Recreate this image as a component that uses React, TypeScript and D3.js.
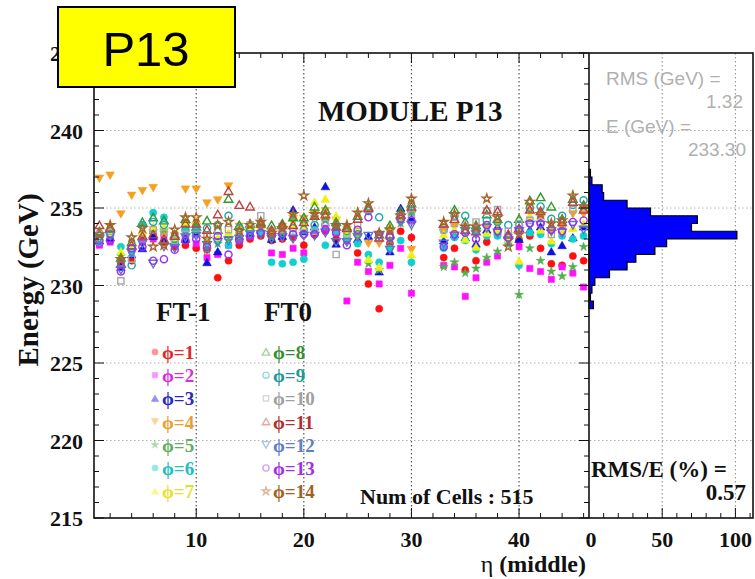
import React from "react";
import * as d3 from "d3";

// η (middle) index of each calorimeter column
const ETA = [1, 2, 3, 4, 5, 6, 7, 8, 9, 10, 11, 12, 13, 14, 15, 16, 17, 18, 19, 20, 21, 22, 23, 24, 25, 26, 27, 28, 29, 30, 31, 32, 33, 34, 35, 36, 37, 38, 39, 40, 41, 42, 43, 44, 45, 46];

// Cell energies (GeV) per φ row, one value per η column (null = no cell)
const PHI1 = [232.7, 233.0, 231.6, 231.6, 233.0, 233.4, 232.8, 232.5, 232.6, 232.4, 232.3, 230.5, 231.6, 232.6, 233.0, 233.2, 232.9, 233.0, 233.1, 232.6, 233.3, 233.5, 233.0, 232.9, 232.1, 230.1, 228.5, 232.7, 233.5, 233.1, null, null, 231.8, 232.4, 231.0, 231.6, 232.8, 233.3, 233.0, 232.9, 233.2, 232.4, 231.4, 231.3, 231.9, 231.6];
const PHI2 = [232.6, 232.8, 231.3, 232.3, 232.8, 233.0, 233.1, 232.7, 233.2, 232.7, 231.8, 232.0, 232.6, 232.9, 233.2, 233.5, 232.1, 232.0, 232.4, 232.1, 233.5, 233.7, 233.4, 229.0, 231.5, 230.9, 230.1, 231.3, 232.4, 229.5, null, null, 231.3, 231.2, 229.3, 230.5, 231.5, 231.9, 232.8, 232.5, 231.1, 230.9, 230.4, 231.2, 230.8, 229.9];
const PHI3 = [232.9, 233.1, 231.2, 232.0, 232.4, 233.2, 232.9, 232.9, 233.0, 233.4, 231.5, 232.2, 233.3, 233.2, 233.4, 233.6, 233.0, 233.2, 234.9, 233.5, 233.8, 236.4, 232.7, 233.2, 233.0, 233.2, 230.9, 232.2, 235.0, 234.3, null, null, 232.9, 233.3, 233.1, 232.7, 233.6, 233.8, 233.2, 233.0, 233.6, 233.8, 232.2, 232.6, 233.1, 233.8];
const PHI4 = [236.9, 237.1, 234.6, 235.8, 236.1, 236.3, 233.3, 233.2, 236.2, 236.2, 235.3, 235.5, 236.4, 233.8, 233.7, 233.9, 233.4, 233.8, 234.3, 234.3, 234.6, 234.8, 234.2, 233.6, 233.2, 232.7, 232.7, 233.5, 234.2, 232.3, null, null, 233.5, 233.8, 233.2, 233.4, 233.8, 233.9, 233.1, 233.4, 234.8, 234.5, 233.4, 233.8, 234.6, 234.6];
const PHI5 = [233.0, 233.3, 231.9, 232.4, 233.3, 233.5, 233.6, 233.0, 233.9, 233.9, 232.3, 232.7, 232.9, 233.1, 233.6, 233.7, 233.1, 233.4, 234.2, 234.0, 234.4, 234.2, 233.8, 233.5, 233.4, 231.4, 231.0, 232.9, 234.0, 234.7, null, null, 231.2, 231.5, 230.8, 231.1, 231.8, 232.2, 232.9, 229.4, 232.4, 231.6, 230.9, 230.6, 231.2, 232.5];
const PHI6 = [232.8, 233.2, 232.5, 232.2, 233.9, 234.7, 234.4, 232.8, 233.5, 233.6, 232.8, 232.9, 232.6, 233.3, 233.5, 233.4, 231.5, 231.4, 231.5, 231.7, 233.6, 232.6, 233.5, 233.0, 232.7, 232.0, 231.5, 232.4, 232.9, 231.5, null, null, 232.4, 233.1, 232.9, 232.3, 233.2, 233.2, 232.7, 231.3, 233.4, 233.3, 232.7, 233.2, 233.0, 233.2];
const PHI7 = [233.1, 233.4, 232.2, 232.5, 233.5, 233.8, 233.8, 233.1, 234.1, 234.2, 233.0, 233.1, 233.4, 233.6, 233.8, 233.8, 233.5, 233.6, 234.0, 233.8, 235.4, 235.6, 234.5, 233.4, 233.6, 231.7, 231.2, 233.8, 234.5, 232.0, null, null, 233.3, 233.6, 233.0, 232.5, 233.4, 233.6, 233.0, 231.6, 234.5, 233.6, 232.9, 233.5, 233.7, 234.0];
const PHI8 = [233.5, 233.8, 231.8, 232.8, 234.1, 234.4, 234.2, 233.3, 234.3, 233.8, 234.2, 233.6, 235.6, 233.9, 234.0, 234.1, 233.9, 234.0, 234.4, 234.4, 235.1, 234.9, 234.1, 233.8, 234.5, 235.1, 233.3, 233.9, 234.8, 235.3, null, null, 234.0, 234.9, 234.1, 233.9, 234.6, 234.3, 233.3, 234.3, 235.5, 235.7, 235.1, 234.3, 235.6, 235.2];
const PHI9 = [233.2, 233.3, 231.5, 231.3, 233.9, 234.1, 233.9, 233.0, 233.6, 233.6, 233.7, 233.9, 234.5, 233.7, 233.6, 233.9, 233.3, 233.4, 233.7, 233.6, 233.9, 233.9, 233.9, 233.5, 233.3, 234.8, 234.4, 233.2, 234.3, 234.8, null, null, 233.6, 234.5, 234.5, 233.6, 234.2, 234.1, 233.9, 233.9, 235.0, 235.1, 234.3, 234.5, 235.2, 235.5];
const PHI10 = [233.3, 233.5, 230.3, 231.7, 233.0, 233.6, 233.4, 232.9, 233.3, 233.3, 233.2, 233.5, 233.6, 233.4, 233.9, 234.5, 233.5, 233.6, 233.5, 233.4, 233.5, 234.0, 232.0, 233.3, 233.9, 234.9, 233.0, 233.5, 234.4, 234.6, null, null, 233.6, 234.0, 233.8, 234.1, 234.8, 234.9, 233.5, 234.0, 234.2, 234.5, 233.3, 233.9, 234.9, 235.0];
const PHI11 = [233.9, 233.7, 231.4, 232.6, 233.2, 233.3, 233.0, 233.2, 234.0, 234.0, 233.6, 234.6, 236.1, 235.2, 235.1, 234.0, 233.6, 233.9, 233.9, 234.1, 234.5, 234.6, 233.8, 233.7, 234.3, 235.0, 233.1, 233.3, 234.6, 235.1, null, null, 234.0, 234.3, 233.6, 233.5, 234.9, 234.8, 233.3, 233.7, 234.9, 234.8, 233.8, 234.1, 235.4, 234.9];
const PHI12 = [233.0, 233.2, 231.0, 232.1, 232.7, 231.4, 232.5, 232.4, 233.1, 233.2, 232.6, 232.8, 232.9, 233.0, 233.3, 233.3, 233.0, 233.1, 233.0, 233.2, 233.2, 233.4, 232.8, 232.8, 233.1, 233.2, 233.2, 232.3, 234.1, 233.9, null, null, 232.7, 233.2, 233.5, 233.3, 233.7, 233.4, 232.9, 233.5, 233.9, 233.9, 233.5, 233.4, 233.9, 233.6];
const PHI13 = [232.9, 232.9, 230.9, 232.4, 232.5, 231.6, 231.7, 232.3, 232.9, 233.0, 232.5, 233.2, 232.0, 232.9, 233.2, 233.4, 233.3, 233.3, 233.3, 233.3, 233.3, 233.6, 233.4, 232.6, 233.6, 234.4, 233.3, 233.1, 234.3, 234.2, null, null, 232.5, 233.3, 233.4, 233.0, 233.9, 233.5, 233.1, 233.6, 234.0, 234.0, 233.6, 233.5, 234.1, 234.2];
const PHI14 = [233.3, 233.9, 231.7, 233.1, 233.7, 232.5, 232.6, 233.6, 234.4, 234.4, 233.0, 233.9, 234.1, 233.5, 233.9, 234.1, 233.4, 233.7, 234.6, 235.8, 234.6, 234.5, 233.9, 233.9, 234.7, 235.3, 233.4, 233.6, 234.5, 235.6, null, null, 234.1, 234.6, 233.8, 233.8, 235.6, 234.4, 232.5, 233.3, 235.4, 234.6, 234.0, 234.2, 235.8, 235.1];

const PHI_LABELS = ["ϕ=1", "ϕ=2", "ϕ=3", "ϕ=4", "ϕ=5", "ϕ=6", "ϕ=7", "ϕ=8", "ϕ=9", "ϕ=10", "ϕ=11", "ϕ=12", "ϕ=13", "ϕ=14"];
const PHI_DATA = [PHI1, PHI2, PHI3, PHI4, PHI5, PHI6, PHI7, PHI8, PHI9, PHI10, PHI11, PHI12, PHI13, PHI14];

// Energy distribution of all cells: lower bin edge (GeV) and number of cells
const HIST_LOW = [228.5, 229.0, 229.5, 230.0, 230.5, 231.0, 231.5, 232.0, 232.5, 233.0, 233.5, 234.0, 234.5, 235.0, 235.5, 236.0, 236.5, 237.0];
const HIST_COUNT = [3, 1, 2, 4, 14, 26, 32, 45, 53, 101, 70, 74, 42, 26, 10, 9, 2, 1];
const HIST_BIN = 0.5;

const Y_TICKS = [215, 220, 225, 230, 235, 240, 245];
const X_TICKS = [10, 20, 30, 40];
const H_TICKS = [0, 50, 100];

const STAT_RMS = "1.32";
const STAT_MEAN = "233.30";
const STAT_RATIO = "0.57";
const N_CELLS = 515;

type Style = { shape: string; color: string; text: string; open: boolean };
const STYLES: Style[] = [
  { shape: "circle", color: "#ff1010", text: "#e02828", open: false },
  { shape: "square", color: "#ff10ff", text: "#d830d8", open: false },
  { shape: "triangle", color: "#1010e0", text: "#2828c0", open: false },
  { shape: "triangleDown", color: "#f5a020", text: "#eaa030", open: false },
  { shape: "star", color: "#50b050", text: "#60b060", open: false },
  { shape: "circle", color: "#10d0d0", text: "#20c0c0", open: false },
  { shape: "triangle", color: "#f0f010", text: "#e8e030", open: false },
  { shape: "triangle", color: "#309a30", text: "#309030", open: true },
  { shape: "circle", color: "#20a8a8", text: "#209898", open: true },
  { shape: "square", color: "#a8a8a8", text: "#a0a0a0", open: true },
  { shape: "triangle", color: "#c04040", text: "#b03030", open: true },
  { shape: "triangleDown", color: "#5878c8", text: "#6080c0", open: true },
  { shape: "circle", color: "#9a30f0", text: "#a030e0", open: true },
  { shape: "star", color: "#a86428", text: "#a06020", open: true },
];

const W = 755;
const H = 579;
const LEFT = 94;
const MID = 589;
const RIGHT = 753;
const TOP = 53;
const BOTTOM = 518;

const SERIF = "'Liberation Serif', 'Times New Roman', Times, serif";
const SANS = "'Liberation Sans', Arial, Helvetica, sans-serif";

const x = d3.scaleLinear().domain([0.5, 46.5]).range([LEFT, MID]);
const y = d3.scaleLinear().domain([215, 245]).range([BOTTOM, TOP]);
const hx = d3.scaleLinear().domain([0, 112]).range([MID, RIGHT]);

function symbolPath(shape: string, size: number): string {
  const t =
    shape === "circle" ? d3.symbolCircle :
    shape === "square" ? d3.symbolSquare :
    shape === "star" ? d3.symbolStar :
    d3.symbolTriangle;
  return d3.symbol().type(t).size(size)() || "";
}

function Marker({ st, cx, cy, scale = 1, opacity = 1 }: { st: Style; cx: number; cy: number; scale?: number; opacity?: number }) {
  const base = st.shape === "star" ? 24 : st.shape.startsWith("triangle") ? 32 : st.shape === "square" ? 38 : 40;
  const rot = st.shape === "triangleDown" ? " rotate(180)" : "";
  const dy = st.shape === "triangle" ? 1 : st.shape === "triangleDown" ? -1 : 0;
  return (
    <path
      d={symbolPath(st.shape, base * scale)}
      transform={`translate(${cx},${cy + dy})${rot}`}
      fill={st.open ? "none" : st.color}
      stroke={st.color}
      strokeWidth={st.open ? 1.4 : 0.6}
      opacity={opacity}
    />
  );
}

function histPath(): string {
  // stepped outline of the horizontal histogram, from the top bin down
  const p = d3.path();
  const n = HIST_LOW.length;
  const topE = HIST_LOW[n - 1] + HIST_BIN;
  p.moveTo(hx(0), y(topE));
  for (let i = n - 1; i >= 0; i--) {
    const hi = HIST_LOW[i] + HIST_BIN;
    const lo = HIST_LOW[i];
    p.lineTo(hx(HIST_COUNT[i]), y(hi));
    p.lineTo(hx(HIST_COUNT[i]), y(lo));
  }
  p.lineTo(hx(0), y(HIST_LOW[0]));
  p.closePath();
  return p.toString();
}

export default function App() {
  const yMinor = d3.range(215, 246, 1);
  const xMinor = d3.range(2, 47, 2);
  const hMinor = d3.range(10, 111, 10);
  const gridY = [220, 225, 230, 235, 240];

  return (
    <div style={{ position: "absolute", left: 0, top: 0, width: W, height: H, background: "#fff" }}>
      <svg width={W} height={H} viewBox={`0 0 ${W} ${H}`} style={{ display: "block" }}>
        <rect x={0} y={0} width={W} height={H} fill="#fff" />

        {/* horizontal grid */}
        {gridY.map((v) => (
          <line key={`gy${v}`} x1={LEFT} x2={RIGHT} y1={y(v)} y2={y(v)} stroke="#b0b0b0" strokeWidth={1} strokeDasharray="1.5,2.5" />
        ))}
        {/* vertical grid, main panel */}
        {X_TICKS.map((v) => (
          <line key={`gx${v}`} x1={x(v)} x2={x(v)} y1={TOP} y2={BOTTOM} stroke="#555" strokeWidth={1.2} strokeDasharray="1.5,2.5" />
        ))}
        {/* vertical grid, histogram panel */}
        {[50, 100].map((v) => (
          <line key={`gh${v}`} x1={hx(v)} x2={hx(v)} y1={TOP} y2={BOTTOM} stroke="#999" strokeWidth={1.2} strokeDasharray="1.5,2.5" />
        ))}

        {/* histogram */}
        <path d={histPath()} fill="#0000ff" stroke="#000" strokeWidth={1.2} />

        {/* cell energies */}
        {PHI_DATA.map((vals, si) => (
          <g key={`s${si}`}>
            {vals.map((v, i) =>
              v == null ? null : <Marker key={i} st={STYLES[si]} cx={x(ETA[i])} cy={y(v)} />
            )}
          </g>
        ))}

        {/* frames */}
        <rect x={LEFT} y={TOP} width={RIGHT - LEFT} height={BOTTOM - TOP} fill="none" stroke="#111" strokeWidth={1.6} />
        <line x1={MID} x2={MID} y1={TOP} y2={BOTTOM} stroke="#111" strokeWidth={1.6} />

        {/* y ticks on left axis and right edge of main panel */}
        {yMinor.map((v) => {
          const len = v % 5 === 0 ? 10 : 5;
          return (
            <g key={`yt${v}`}>
              <line x1={LEFT} x2={LEFT + len} y1={y(v)} y2={y(v)} stroke="#111" strokeWidth={1} />
              <line x1={MID} x2={MID - len} y1={y(v)} y2={y(v)} stroke="#111" strokeWidth={1} />
            </g>
          );
        })}
        {/* x ticks top and bottom */}
        {xMinor.map((v) => {
          const len = v % 10 === 0 ? 10 : 5;
          return (
            <g key={`xt${v}`}>
              <line x1={x(v)} x2={x(v)} y1={BOTTOM} y2={BOTTOM - len} stroke="#111" strokeWidth={1} />
              <line x1={x(v)} x2={x(v)} y1={TOP} y2={TOP + len} stroke="#111" strokeWidth={1} />
            </g>
          );
        })}
        {hMinor.map((v) => (
          <line key={`ht${v}`} x1={hx(v)} x2={hx(v)} y1={BOTTOM} y2={BOTTOM - (v % 50 === 0 ? 10 : 5)} stroke="#111" strokeWidth={1} />
        ))}

        {/* tick labels */}
        {Y_TICKS.map((v) => (
          <text key={`yl${v}`} x={83} y={y(v) + 8} textAnchor="end" fontFamily={SERIF} fontWeight="bold" fontSize={22} fill="#111">
            {v}
          </text>
        ))}
        {X_TICKS.map((v) => (
          <text key={`xl${v}`} x={x(v)} y={547} textAnchor="middle" fontFamily={SERIF} fontWeight="bold" fontSize={22} fill="#111">
            {v}
          </text>
        ))}
        {H_TICKS.map((v) => (
          <text key={`hl${v}`} x={hx(v) + (v === 0 ? 2 : 0)} y={547} textAnchor="middle" fontFamily={SERIF} fontWeight="bold" fontSize={22} fill="#111">
            {v}
          </text>
        ))}

        {/* axis titles */}
        <text x={586} y={572} textAnchor="end" fontFamily={SERIF} fontSize={24} fill="#111">
          <tspan>η </tspan>
          <tspan fontWeight="bold">(middle)</tspan>
        </text>
        <text transform="translate(38,280) rotate(-90)" textAnchor="middle" fontFamily={SERIF} fontWeight="bold" fontSize={29} fill="#111">
          Energy (GeV)
        </text>

        {/* panel texts */}
        <text x={318} y={121} fontFamily={SERIF} fontWeight="bold" fontSize={29} fill="#111">MODULE P13</text>
        <text x={156} y={321} fontFamily={SERIF} fontWeight="bold" fontSize={27} fill="#111">FT-1</text>
        <text x={264} y={321} fontFamily={SERIF} fontWeight="bold" fontSize={27} fill="#111">FT0</text>
        <text x={360} y={504} fontFamily={SERIF} fontWeight="bold" fontSize={22} fill="#111">{`Num of Cells : ${N_CELLS}`}</text>
        <text x={591} y={477} fontFamily={SERIF} fontWeight="bold" fontSize={23} fill="#111">RMS/E (%) =</text>
        <text x={746} y={500} textAnchor="end" fontFamily={SERIF} fontWeight="bold" fontSize={23} fill="#111">{STAT_RATIO}</text>

        {/* statistics box */}
        <g fontFamily={SANS} fontSize={19} fill="#b0b0b0">
          <text x={606} y={85}>RMS (GeV) =</text>
          <text x={743} y={108} textAnchor="end">{STAT_RMS}</text>
          <text x={606} y={133}>E (GeV) =</text>
          <text x={746} y={156} textAnchor="end">{STAT_MEAN}</text>
        </g>

        {/* legend */}
        {STYLES.map((st, i) => {
          const col = i < 7 ? 0 : 1;
          const row = i % 7;
          const mx = col === 0 ? 155 : 266;
          const cy = 352 + row * 23.2;
          return (
            <g key={`lg${i}`}>
              <Marker st={st} cx={mx} cy={cy} scale={0.75} opacity={0.45} />
              <text x={mx + 7} y={cy + 7} fontFamily={SERIF} fontWeight="bold" fontSize={19} fill={st.text}>
                {PHI_LABELS[i]}
              </text>
            </g>
          );
        })}

        {/* module label */}
        <rect x={58} y={7} width={177} height={80} fill="#ffff00" stroke="#000" strokeWidth={2} />
        <text x={146} y={66} textAnchor="middle" fontFamily={SANS} fontSize={49} fill="#000">P13</text>
      </svg>
    </div>
  );
}
